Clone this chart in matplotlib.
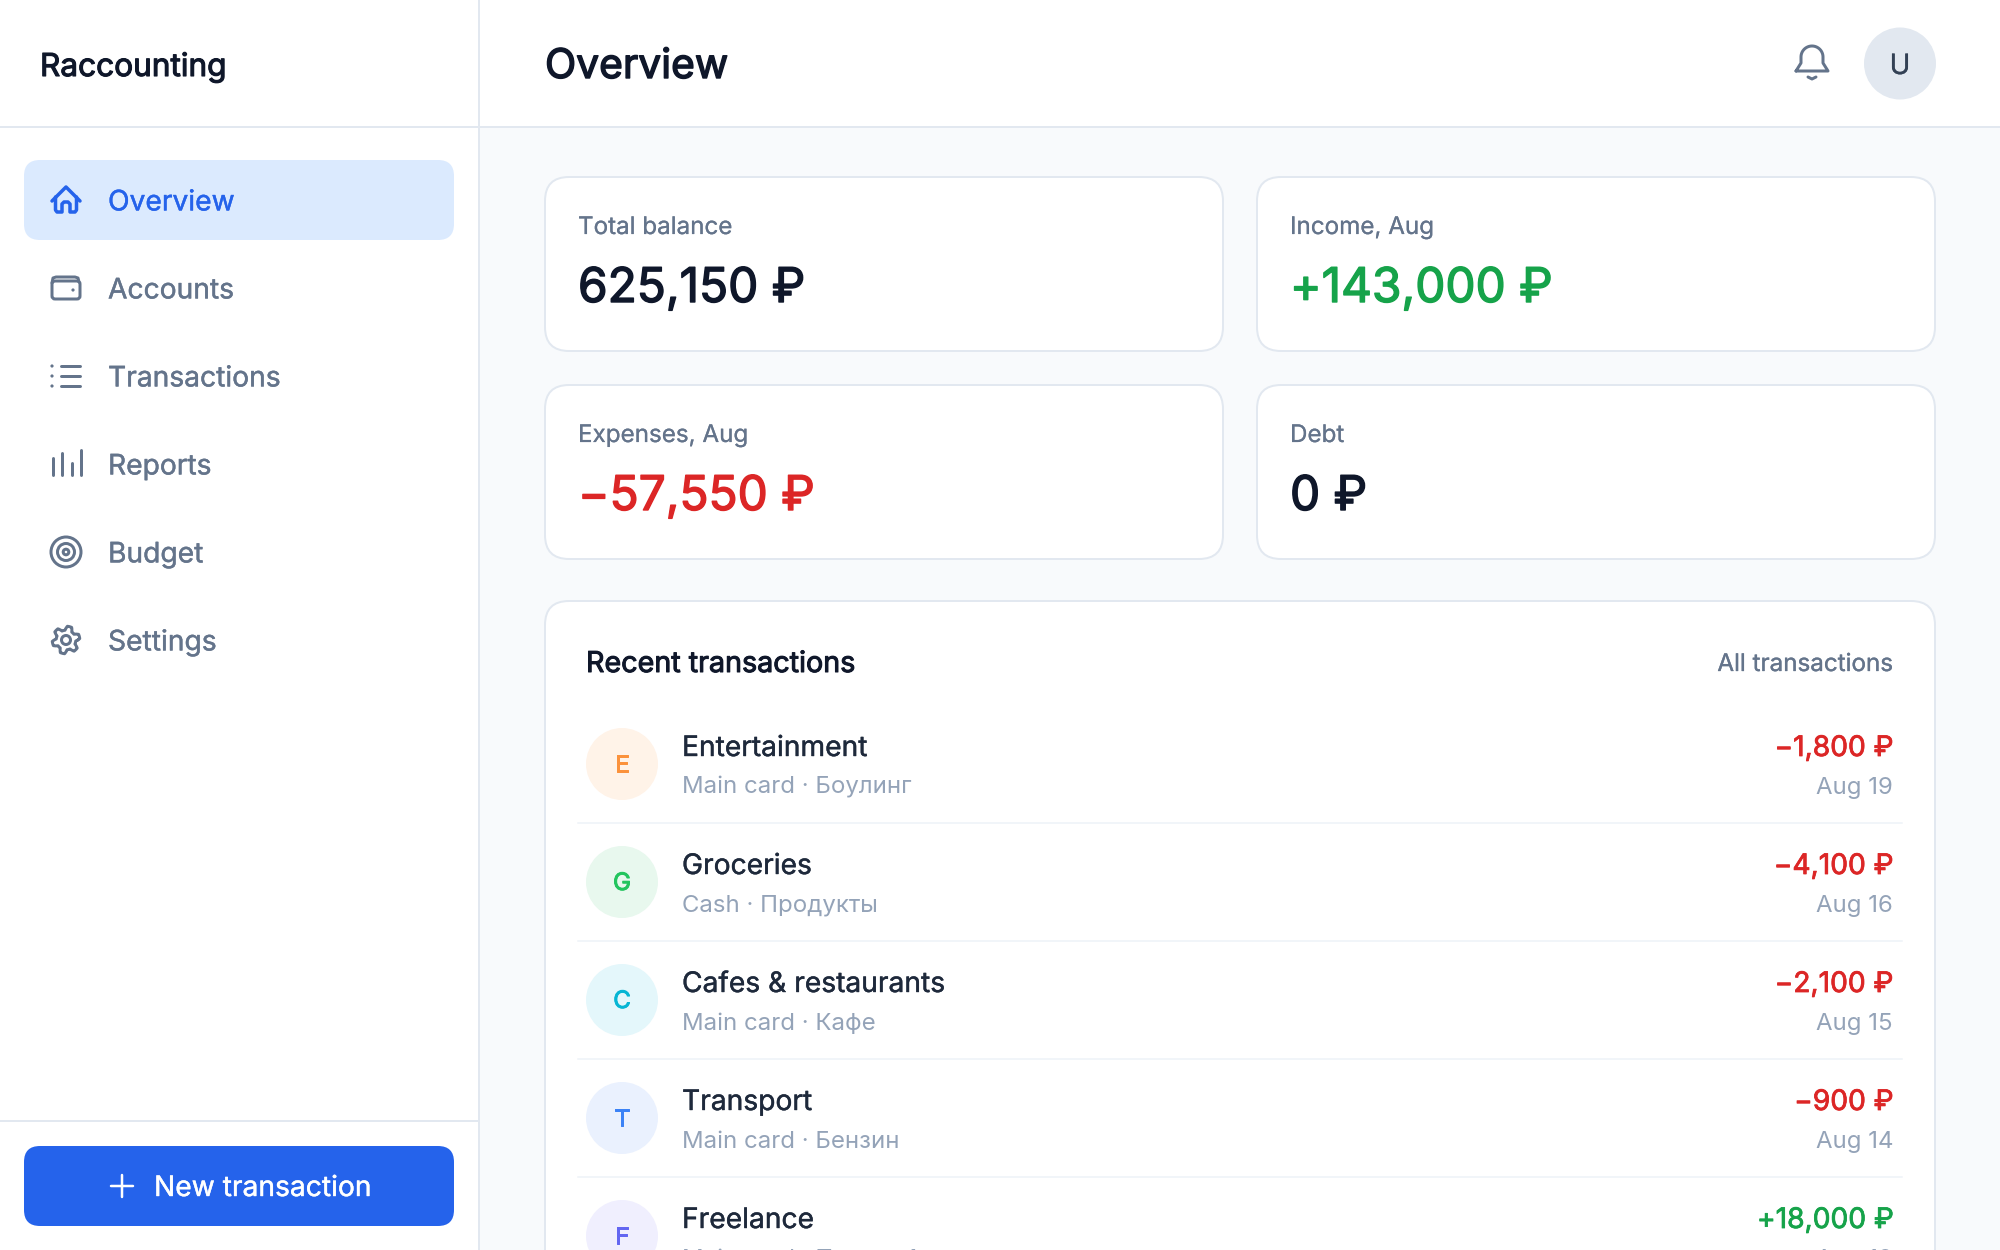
import numpy as np
import matplotlib
matplotlib.use("Agg")
import matplotlib.pyplot as plt
import matplotlib.patheffects as pe
from matplotlib.patches import FancyBboxPatch, Circle, Rectangle

FONT = ["Inter", "Noto Sans", "DejaVu Sans"]

nav_labels = ["Overview", "Accounts", "Transactions", "Reports", "Budget", "Settings"]

card_labels = ["Total balance", "Income, Aug", "Expenses, Aug", "Debt"]
card_values = ["625,150 ₽", "+143,000 ₽", "−57,550 ₽", "0 ₽"]
card_colors = ["#0F172A", "#16A34A", "#DC2626", "#0F172A"]

tx_names = ["Entertainment", "Groceries", "Cafes & restaurants", "Transport", "Freelance"]
tx_notes = ["Main card · Боулинг", "Cash · Продукты", "Main card · Кафе", "Main card · Бензин", "Main card · Проект 1"]
tx_amounts = ["−1,800 ₽", "−4,100 ₽", "−2,100 ₽", "−900 ₽", "+18,000 ₽"]
tx_dates = ["Aug 19", "Aug 16", "Aug 15", "Aug 14", "Aug 12"]
tx_letters = ["E", "G", "C", "T", "F"]
tx_avatar_bg = ["#FFF3E8", "#E8F8EE", "#E4F7FB", "#EAF1FE", "#F0EFFE"]
tx_avatar_fg = ["#FB923C", "#22C55E", "#06B6D4", "#3B82F6", "#6366F1"]

SLATE_900 = "#0F172A"
SLATE_800 = "#1E293B"
SLATE_500 = "#64748B"
SLATE_400 = "#94A3B8"
BLUE = "#2563EB"
BORDER = "#E2E8F0"


def put(ax, x, y, s, size, color, ha="left", bold=0.0):
    # size is in image pixels, y is the baseline
    t = ax.text(x, y, s, fontsize=size * 0.72, color=color, ha=ha, va="baseline",
                family=FONT, zorder=5)
    if bold:
        t.set_path_effects([pe.withStroke(linewidth=bold * 0.72, foreground=color)])
    return t


def box(ax, x0, y0, x1, y1, radius, face, edge="none", lw=0, z=1):
    p = FancyBboxPatch((x0 + radius, y0 + radius), x1 - x0 - 2 * radius, y1 - y0 - 2 * radius,
                       boxstyle="round,pad=%f,rounding_size=%f" % (radius, radius),
                       fc=face, ec=edge, lw=lw * 0.72, zorder=z)
    ax.add_patch(p)


def line(ax, xs, ys, color, lw=3):
    ax.plot(xs, ys, color=color, lw=lw * 0.72, solid_capstyle="round",
            solid_joinstyle="round", zorder=4)


def ring(ax, cx, cy, r, color, lw=3):
    ax.add_patch(Circle((cx, cy), r, fc="none", ec=color, lw=lw * 0.72, zorder=4))


def icon_home(ax, cx, cy, c):
    line(ax, [cx - 14, cx, cx + 14], [cy + 1, cy - 13, cy + 1], c, 3.5)
    line(ax, [cx - 10.5, cx - 10.5, cx - 9, cx - 4, cx - 4, cx - 2, cx + 2, cx + 4, cx + 4, cx + 9, cx + 10.5, cx + 10.5],
         [cy - 3, cy + 10, cy + 12, cy + 12, cy + 4, cy + 2, cy + 2, cy + 4, cy + 12, cy + 12, cy + 10, cy - 3], c, 3.5)


def icon_wallet(ax, cx, cy, c):
    box(ax, cx - 14, cy - 7, cx + 14, cy + 11, 3, "none", c, 3, z=4)
    line(ax, [cx - 14, cx - 13, cx - 10, cx + 9, cx + 12, cx + 13], [cy - 5, cy - 10, cy - 11, cy - 11, cy - 10, cy - 6], c)
    ax.add_patch(Circle((cx + 7, cy + 2), 1.6, fc=c, ec="none", zorder=4))


def icon_list(ax, cx, cy, c):
    for dy in (-10, 0, 10):
        line(ax, [cx - 5, cx + 14], [cy + dy, cy + dy], c, 3)
        ax.add_patch(Circle((cx - 14, cy + dy), 1.6, fc=c, ec="none", zorder=4))


def icon_bars(ax, cx, cy, c):
    for dx, top in zip((-13, -4, 6, 15), (-6, -11, -1, -14)):
        line(ax, [cx + dx, cx + dx], [cy + top, cy + 11], c, 3)


def icon_target(ax, cx, cy, c):
    for r in (15, 8.5, 2.8):
        ring(ax, cx, cy, r, c)


def icon_gear(ax, cx, cy, c):
    th = np.linspace(0, 2 * np.pi, 241)
    r = 11.8 + 2.0 * np.clip(1.7 * np.cos(6 * th + np.pi / 2), -1, 1)
    line(ax, cx + r * np.cos(th), cy + r * np.sin(th), c)
    ring(ax, cx, cy, 4.5, c)


def icon_bell(ax, cx, cy, c):
    th = np.linspace(np.pi, 2 * np.pi, 30)
    xs = np.r_[cx - 16, cx - 11, cx - 11, cx + 11 * np.cos(th), cx + 11, cx + 16, cx - 16]
    ys = np.r_[cy + 9, cy + 1, cy - 5, cy - 5 + 11 * np.sin(th), cy + 1, cy + 9, cy + 9]
    line(ax, xs, ys, c)
    line(ax, [cx - 4, cx, cx + 4], [cy + 15, cy + 17, cy + 15], c)


def main():
    fig = plt.figure(figsize=(20, 12.5), dpi=100, facecolor="#F8FAFC")
    ax = fig.add_axes([0, 0, 1, 1])
    ax.set_xlim(0, 2000)
    ax.set_ylim(1250, 0)
    ax.axis("off")

    # sidebar and header
    ax.add_patch(Rectangle((0, 0), 480, 1250, fc="white", ec="none", zorder=0.5))
    ax.add_patch(Rectangle((480, 0), 1520, 127, fc="white", ec="none", zorder=0.5))
    line(ax, [479, 479], [0, 1250], BORDER, 2)
    line(ax, [0, 2000], [127, 127], BORDER, 2)
    line(ax, [0, 478], [1121, 1121], BORDER, 2)

    put(ax, 40, 76, "Raccounting", 31.6, SLATE_900, bold=1.1)
    put(ax, 545, 78, "Overview", 40.8, SLATE_900, bold=1.4)
    icon_bell(ax, 1812, 62, SLATE_500)
    ax.add_patch(Circle((1900, 63.5), 36, fc=BORDER, ec="none", zorder=2))
    put(ax, 1900, 74, "U", 28, "#334155", ha="center", bold=0.2)

    # navigation
    box(ax, 24, 160, 454, 240, 16, "#DBEAFE")
    icons = [icon_home, icon_wallet, icon_list, icon_bars, icon_target, icon_gear]
    for i, label in enumerate(nav_labels):
        cy = 200 + 88 * i
        col = BLUE if i == 0 else SLATE_500
        icons[i](ax, 66, cy, col)
        put(ax, 108, cy + 10.4, label, 28.2, col, bold=0.4)

    # button
    box(ax, 24, 1146, 454, 1226, 16, BLUE)
    line(ax, [111, 133], [1186, 1186], "white", 2.5)
    line(ax, [122, 122], [1175, 1197], "white", 2.5)
    put(ax, 154, 1196, "New transaction", 28.2, "white", bold=0.4)

    # stat cards
    for i in range(4):
        x0 = 545 if i % 2 == 0 else 1257
        y0 = 177 if i < 2 else 385
        box(ax, x0, y0, x0 + 678, y0 + 174, 24, "white", BORDER, 2, z=2)
        put(ax, x0 + 33, y0 + 57, card_labels[i], 24.2, SLATE_500, bold=0.2)
        put(ax, x0 + 33, y0 + 125, card_values[i], 47.8, card_colors[i], bold=1.4)

    # recent transactions panel
    box(ax, 545, 601, 1935, 1400, 24, "white", BORDER, 2, z=2)
    put(ax, 586, 672, "Recent transactions", 28.7, SLATE_900, bold=1.0)
    put(ax, 1893, 671, "All transactions", 24.2, SLATE_500, ha="right", bold=0.3)

    for i in range(len(tx_names)):
        cy = 764 + 118 * i
        if i > 0:
            line(ax, [578, 1902], [cy - 59, cy - 59], "#F1F5F9", 2)
        ax.add_patch(Circle((622, cy), 36, fc=tx_avatar_bg[i], ec="none", zorder=3))
        put(ax, 622, cy + 8, tx_letters[i], 24, tx_avatar_fg[i], ha="center", bold=1.0)
        put(ax, 682, cy - 8, tx_names[i], 28.2, SLATE_800, bold=0.4)
        put(ax, 682, cy + 30, tx_notes[i], 24, SLATE_400)
        amt_col = "#16A34A" if tx_amounts[i].startswith("+") else "#DC2626"
        put(ax, 1893, cy - 8, tx_amounts[i], 28.2, amt_col, ha="right", bold=0.8)
        put(ax, 1893, cy + 30, tx_dates[i], 24, SLATE_400, ha="right")

    fig.savefig("out.png", dpi=100, facecolor=fig.get_facecolor())


if __name__ == "__main__":
    main()
